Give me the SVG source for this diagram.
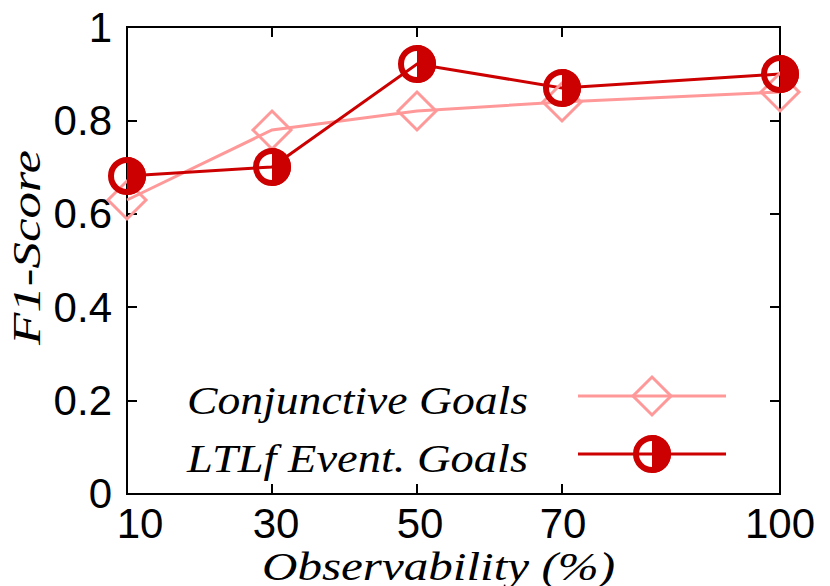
<svg xmlns="http://www.w3.org/2000/svg" width="830" height="586" viewBox="0 0 830 586">
<style>
.ax{stroke:#000;stroke-width:2;fill:none}
.t{font-family:"Liberation Sans",Arial,sans-serif;font-size:42px;fill:#000}
.i{font-family:"Liberation Serif","Times New Roman",serif;font-style:italic;font-size:40px;fill:#000}
.c{stroke:#ff9999;stroke-width:3;fill:none}
.l{stroke:#cc0000;stroke-width:3;fill:none}
</style>
<defs>
<g id="dia"><path d="M0,-19 L19,0 L0,19 L-19,0 Z" fill="none" stroke="#ff9999" stroke-width="3"/></g>
<g id="hc"><path d="M0,-19 A19,19 0 0 1 0,19 Z" fill="#cc0000"/><circle r="16" fill="none" stroke="#cc0000" stroke-width="6"/></g>
</defs>
<g id="axes">
<rect class="ax" x="127" y="27" width="653" height="467"/>
<path class="ax" d="M127,401h10M127,307h10M127,214h10M127,121h10M780,401h-10M780,307h-10M780,214h-10M780,121h-10M272,494v-10M417,494v-10M562,494v-10M272,27v10M417,27v10M562,27v10"/>
<text class="t" x="112" y="508" text-anchor="end">0</text>
<text class="t" x="112" y="415" text-anchor="end">0.2</text>
<text class="t" x="112" y="322" text-anchor="end">0.4</text>
<text class="t" x="112" y="228" text-anchor="end">0.6</text>
<text class="t" x="112" y="135" text-anchor="end">0.8</text>
<text class="t" x="112" y="42" text-anchor="end">1</text>
<text class="t" x="140" y="538" text-anchor="middle">10</text>
<text class="t" x="276" y="538" text-anchor="middle">30</text>
<text class="t" x="420" y="538" text-anchor="middle">50</text>
<text class="t" x="563" y="538" text-anchor="middle">70</text>
<text class="t" x="780" y="538" text-anchor="middle">100</text>
<text class="i" x="262" y="580" textLength="353" lengthAdjust="spacingAndGlyphs">Observability (%)</text>
<text class="i" transform="translate(40,345) rotate(-90)" textLength="195" lengthAdjust="spacingAndGlyphs">F1-Score</text>
</g>
<g id="connectors">
<polyline class="c" points="127,200 272,130 417,111 562,102 780,92"/>
<polyline class="l" points="127,176 272,167 417,64 562,88 780,74"/>
<line class="c" x1="578" y1="396" x2="726" y2="396"/>
<line class="l" x1="578" y1="454" x2="726" y2="454"/>
</g>
<g id="conj">
<use href="#dia" x="127" y="200"/><use href="#dia" x="272" y="130"/><use href="#dia" x="417" y="111"/><use href="#dia" x="562" y="102"/><use href="#dia" x="780" y="92"/><use href="#dia" x="652" y="396"/>
<text class="i" x="187" y="414" textLength="341" lengthAdjust="spacingAndGlyphs">Conjunctive Goals</text>
</g>
<g id="ltlf">
<use href="#hc" x="127" y="176"/><use href="#hc" x="272" y="167"/><use href="#hc" x="417" y="64"/><use href="#hc" x="562" y="88"/><use href="#hc" x="780" y="74"/><use href="#hc" x="652" y="454"/>
<text class="i" x="187" y="472" textLength="341" lengthAdjust="spacingAndGlyphs">LTLf Event. Goals</text>
</g>
</svg>
